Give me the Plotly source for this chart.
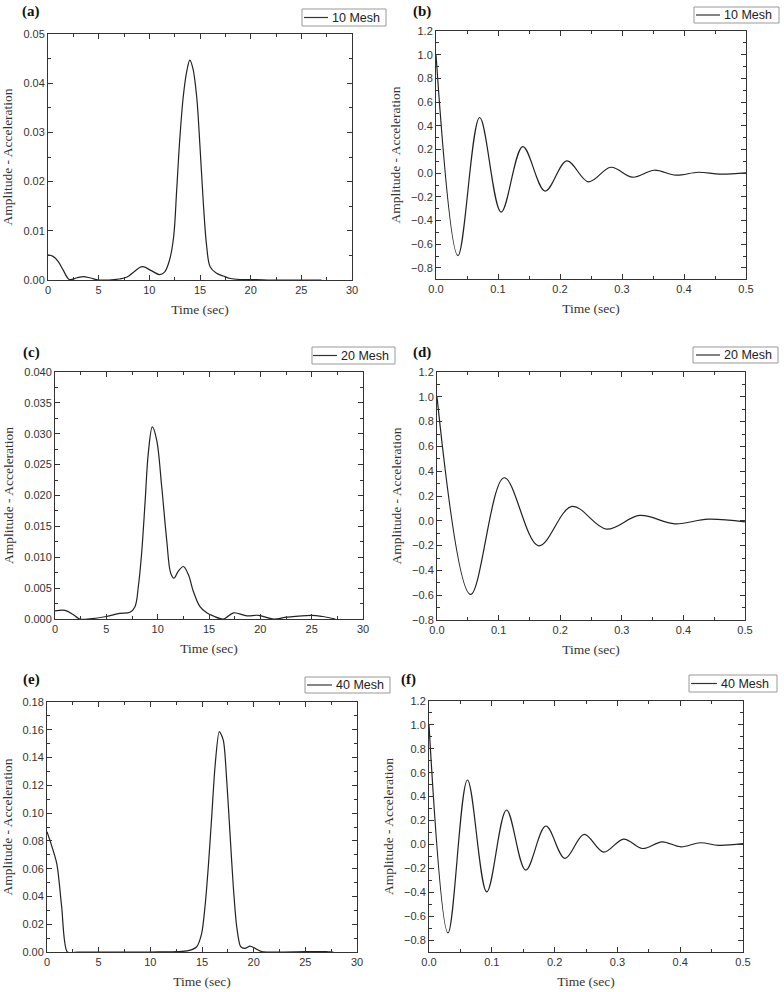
import plotly.graph_objects as go

# ---------------- data ----------------
# (a) 10 Mesh
t_a = [0, 0.5, 1.0, 1.5, 2.1, 2.8, 3.5, 4.2, 5.0, 6.0, 7.0, 7.8, 8.5, 9.3, 10.2, 11.0,
       11.5, 12.0, 12.4, 12.7, 13.0, 13.35, 13.7, 14.0, 14.3, 14.67, 15.0, 15.33, 15.66,
       16.0, 16.6, 17.3, 18.0, 19.0, 20.5, 22.0, 25.0, 27.0]
y_a = [0.0051, 0.0048, 0.0038, 0.0020, 0.0001, 0.0004, 0.0007, 0.0004, 0.0, 0.0,
       0.0002, 0.0006, 0.0017, 0.0027, 0.0019, 0.0011, 0.0016, 0.0041, 0.0088, 0.0183,
       0.0285, 0.0373, 0.0425, 0.0447, 0.0430, 0.0373, 0.0271, 0.0156, 0.0068, 0.0027,
       0.0014, 0.0008, 0.0003, 0.0001, 0.0001, 0.0, 0.0, 0.0]

# (b) 10 Mesh, time response (turning points)
t_b = [0, 0.0354, 0.0704, 0.105, 0.140, 0.176, 0.211, 0.246, 0.282, 0.317, 0.352,
       0.387, 0.423, 0.458, 0.5]
y_b = [1.0, -0.695, 0.47, -0.328, 0.224, -0.151, 0.104, -0.073, 0.050, -0.034, 0.025,
       -0.017, 0.008, -0.008, 0.003]

# (c) 20 Mesh
t_c = [0, 0.97, 1.79, 2.4, 3.4, 5.0, 6.3, 7.3, 7.79, 8.12, 8.44, 8.77, 9.09, 9.48,
       9.9, 10.39, 10.88, 11.27, 11.59, 12.0, 12.5, 12.99, 13.47, 14.12, 14.78, 15.4,
       16.4, 17.4, 18.7, 19.8, 21.3, 22.6, 25.0, 26.1, 27.3]
y_c = [0.0013, 0.0014, 0.0007, 0.0, 0.00003, 0.0004, 0.0009, 0.0011, 0.0020, 0.0053,
       0.0107, 0.0188, 0.0269, 0.0311, 0.0290, 0.0215, 0.0128, 0.0074, 0.0066, 0.0077,
       0.0085, 0.0072, 0.0045, 0.0020, 0.0010, 0.0005, 0.0, 0.0010, 0.0005, 0.0006,
       0.0, 0.0003, 0.0006, 0.0004, 0.0]

# (d) 20 Mesh, time response (turning points)
t_d = [0, 0.0546, 0.109, 0.165, 0.219, 0.275, 0.329, 0.386, 0.44, 0.5]
y_d = [1.0, -0.594, 0.347, -0.202, 0.116, -0.067, 0.043, -0.024, 0.013, -0.008]

# (e) 40 Mesh
t_e = [0, 0.94, 1.42, 1.97, 3.0, 5.0, 8.0, 10.0, 11.6, 12.55, 13.67, 14.49, 14.97,
       15.29, 15.61, 15.94, 16.26, 16.67, 17.06, 17.39, 17.71, 18.03, 18.36, 18.74,
       19.16, 19.65, 20.13, 20.78, 22.0, 25.0, 27.0, 27.7]
y_e = [0.0866, 0.0638, 0.0326, 0.0, 0.0, 0.0, 0.0, 0.0, 0.0001, 0.0003, 0.0010, 0.0038,
       0.0134, 0.0326, 0.0614, 0.0974, 0.1334, 0.1586, 0.1526, 0.1238, 0.0854, 0.0470,
       0.0182, 0.0038, 0.0026, 0.0043, 0.0026, 0.0003, 0.0, 0.0002, 0.0003, 0.0]

# (f) 40 Mesh, time response (turning points)
t_f = [0, 0.0303, 0.0612, 0.092, 0.1234, 0.154, 0.186, 0.2165, 0.247, 0.278, 0.31,
       0.34, 0.371, 0.401, 0.432, 0.461, 0.5]
y_f = [1.0, -0.74, 0.539, -0.397, 0.288, -0.215, 0.154, -0.117, 0.084, -0.064, 0.045,
       -0.034, 0.022, -0.020, 0.014, -0.008, 0.006]

panel_labels = ["(a)", "(b)", "(c)", "(d)", "(e)", "(f)"]
series_names = ["10 Mesh", "10 Mesh", "20 Mesh", "20 Mesh", "40 Mesh", "40 Mesh"]
x_title = "Time (sec)"
y_title = "Amplitude - Acceleration"

# ---------------- layout geometry ----------------
W, H = 784, 992
boxes = [(48, 352, 34, 280), (436, 746, 31, 279),
         (55, 363, 372, 619), (437, 745, 372, 620),
         (47, 357, 702, 952), (429, 743, 701, 952)]
# legend box (left, right, top, bottom) and sample line (x0, x1)
leg_boxes = [(302, 386, 9, 26), (694, 779, 7, 23), (312, 395, 347, 364),
             (693, 778, 347, 363), (305, 390, 677, 693), (689, 777, 675, 692)]
leg_lines = [(304, 328), (696, 720), (313, 337), (696, 720), (307, 332), (691, 717)]
label_pos = [(31, 11), (422, 12), (31, 352), (422, 352), (31, 679), (409, 679)]

data = [(t_a, y_a), (t_b, y_b), (t_c, y_c), (t_d, y_d), (t_e, y_e), (t_f, y_f)]
xranges = [[0, 30], [0, 0.5], [0, 30], [0, 0.5], [0, 30], [0, 0.5]]
yranges = [[0, 0.05], [-0.893, 1.2], [0, 0.04], [-0.8, 1.2], [0, 0.18], [-0.9, 1.2]]
xdt = [5, 0.1, 5, 0.1, 5, 0.1]
ydt = [0.01, 0.2, 0.005, 0.2, 0.02, 0.2]
xfmt = ["d", ".1f", "d", ".1f", "d", ".1f"]
yfmt = [".2f", ".1f", ".3f", ".1f", ".2f", ".1f"]
ytick0 = [0, -0.8, 0, -0.8, 0, -0.8]
smooth = [1.0, 1.0, 1.0, 1.0, 0.7, 1.0]

AX = "#333333"
SANS = "Arial, Liberation Sans, sans-serif"
SERIF = "Times New Roman, Liberation Serif, serif"
tick_font = dict(family=SANS, size=11, color="#333333")
title_font = dict(family=SERIF, size=13.5, color="#333333")

fig = go.Figure()
layout = dict(width=W, height=H, margin=dict(l=0, r=0, t=0, b=0),
              paper_bgcolor="white", plot_bgcolor="white", template="none",
              showlegend=False, annotations=[], shapes=[])

for i in range(6):
    n = "" if i == 0 else str(i + 1)
    t, y = data[i]
    fig.add_trace(go.Scatter(
        x=t, y=y, mode="lines", name=series_names[i],
        line=dict(color="#222222", width=1.2, shape="spline", smoothing=smooth[i]),
        xaxis="x" + n, yaxis="y" + n, showlegend=False))
    l, r, tp, b = boxes[i]
    layout["xaxis" + n] = dict(
        domain=[l / W, r / W], anchor="y" + n, range=xranges[i],
        tick0=0, dtick=xdt[i], tickformat=xfmt[i],
        ticks="inside", ticklen=5, tickwidth=1, tickcolor=AX,
        minor=dict(ticks="inside", ticklen=3, tickcolor=AX, dtick=xdt[i] / 2, showgrid=False),
        showline=True, linecolor=AX, linewidth=1, mirror="allticks",
        showgrid=False, zeroline=False, tickfont=tick_font,
        title=dict(text=x_title, font=title_font, standoff=9), automargin=False)
    layout["yaxis" + n] = dict(
        domain=[1 - b / H, 1 - tp / H], anchor="x" + n, range=yranges[i],
        tick0=ytick0[i], dtick=ydt[i], tickformat=yfmt[i],
        ticks="inside", ticklen=5, tickwidth=1, tickcolor=AX,
        minor=dict(ticks="inside", ticklen=3, tickcolor=AX, dtick=ydt[i] / 2, showgrid=False),
        showline=True, linecolor=AX, linewidth=1, mirror="allticks",
        showgrid=False, zeroline=False, tickfont=tick_font,
        title=dict(text=y_title, font=title_font, standoff=7), automargin=False)

    # legend-like key box
    bl, br, bt, bb = leg_boxes[i]
    layout["shapes"].append(dict(type="rect", xref="paper", yref="paper",
                                 x0=bl / W, x1=br / W, y0=1 - bb / H, y1=1 - bt / H,
                                 line=dict(color="#999999", width=1), fillcolor="white"))
    lx0, lx1 = leg_lines[i]
    ym = 1 - (bt + bb) / 2 / H
    layout["shapes"].append(dict(type="line", xref="paper", yref="paper",
                                 x0=lx0 / W, x1=lx1 / W, y0=ym, y1=ym,
                                 line=dict(color="#333333", width=1.2)))
    layout["annotations"].append(dict(
        text=series_names[i], x=(lx1 + 2) / W, y=ym, xref="paper", yref="paper",
        showarrow=False, xanchor="left", yanchor="middle",
        font=dict(family=SANS, size=12.5, color="#222222")))

    px, py = label_pos[i]
    layout["annotations"].append(dict(
        text="<b>" + panel_labels[i] + "</b>", x=px / W, y=1 - py / H,
        xref="paper", yref="paper", showarrow=False, xanchor="center", yanchor="middle",
        font=dict(family=SERIF, size=15, color="#111111")))

fig.update_layout(**layout)
fig.write_html("out.html")
